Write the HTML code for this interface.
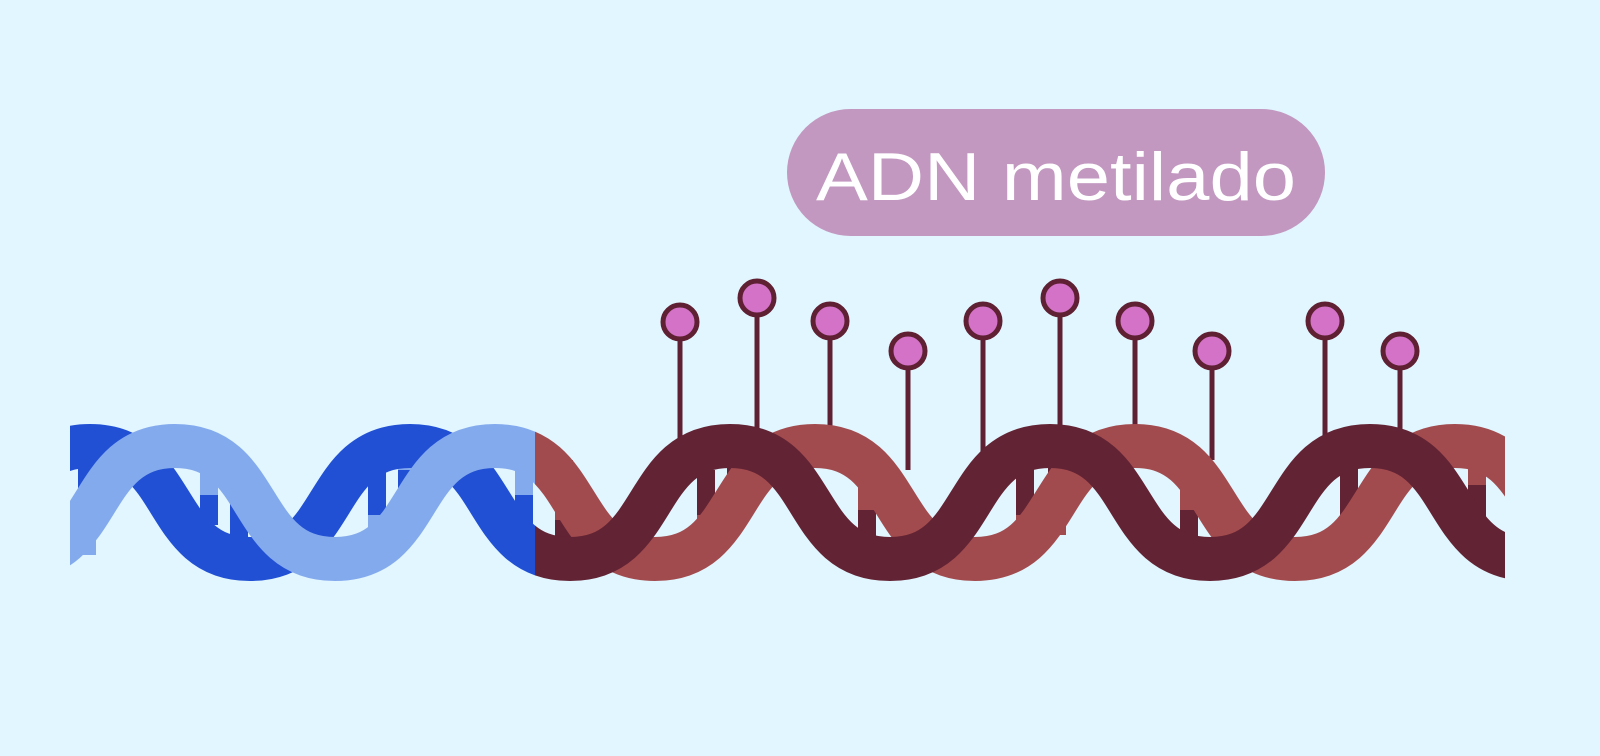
<!DOCTYPE html>
<html><head><meta charset="utf-8"><style>
html,body{margin:0;padding:0;background:#e1f6fe;}
svg{display:block}
</style></head><body>
<svg width="1600" height="756" viewBox="0 0 1600 756" xmlns="http://www.w3.org/2000/svg">
<rect width="1600" height="756" fill="#e1f6fe"/>
<defs>
<clipPath id="cb"><rect x="70" y="380" width="465" height="240"/></clipPath>
<clipPath id="cr"><rect x="535" y="380" width="970" height="240"/></clipPath>
<path id="dark" d="M-230,446 C-140,446 -160,559 -70,559 S0,446 90,446 S160,559 250,559 S320,446 410,446 S480,559 570,559 S640,446 730,446 S800,559 890,559 S960,446 1050,446 S1120,559 1210,559 S1280,446 1370,446 S1440,559 1530,559"/>
<path id="light" d="M-145,446 C-55,446 -75,559 15,559 S85,446 175,446 S245,559 335,559 S405,446 495,446 S565,559 655,559 S725,446 815,446 S885,559 975,559 S1045,446 1135,446 S1205,559 1295,559 S1365,446 1455,446 S1525,559 1615,559"/>
</defs>
<rect x="787" y="109" width="538" height="127" rx="63.5" fill="#c298c0"/>
<text x="816" y="200" font-family="Liberation Sans, sans-serif" font-size="68" fill="#ffffff" textLength="480" lengthAdjust="spacingAndGlyphs">ADN metilado</text>
<g stroke="#5e2032" stroke-width="5" fill="none">
<line x1="680" y1="335" x2="680" y2="440"/><line x1="757" y1="310" x2="757" y2="430"/>
<line x1="830" y1="335" x2="830" y2="430"/><line x1="908" y1="365" x2="908" y2="470"/>
<line x1="983" y1="335" x2="983" y2="465"/><line x1="1060" y1="310" x2="1060" y2="430"/>
<line x1="1135" y1="335" x2="1135" y2="430"/><line x1="1212" y1="365" x2="1212" y2="460"/>
<line x1="1325" y1="335" x2="1325" y2="440"/><line x1="1400" y1="365" x2="1400" y2="440"/>
</g>
<g stroke="#5e2032" stroke-width="5" fill="#d472c8">
<circle cx="680" cy="322" r="17"/><circle cx="757" cy="298" r="17"/><circle cx="830" cy="321" r="17"/>
<circle cx="908" cy="351" r="17"/><circle cx="983" cy="321" r="17"/><circle cx="1060" cy="298" r="17"/>
<circle cx="1135" cy="321" r="17"/><circle cx="1212" cy="351" r="17"/><circle cx="1325" cy="321" r="17"/>
<circle cx="1400" cy="351" r="17"/>
</g>
<g clip-path="url(#cb)">
<g>
<rect x="78" y="440" width="18" height="55" fill="#2150d4"/><rect x="78" y="495" width="18" height="60" fill="#84aaee"/>
<rect x="200" y="460" width="18" height="40" fill="#84aaee"/><rect x="200" y="495" width="18" height="30" fill="#2150d4"/>
<rect x="230" y="480" width="18" height="65" fill="#2150d4"/><rect x="230" y="470" width="18" height="10" fill="#84aaee"/>
<rect x="368" y="470" width="18" height="55" fill="#2150d4"/><rect x="368" y="515" width="18" height="35" fill="#84aaee"/>
<rect x="398" y="460" width="18" height="40" fill="#84aaee"/><rect x="398" y="470" width="18" height="30" fill="#2150d4"/>
<rect x="515" y="460" width="18" height="35" fill="#84aaee"/><rect x="515" y="495" width="18" height="50" fill="#2150d4"/>
</g>
<use href="#dark" stroke="#2150d4" stroke-width="44" fill="none"/>
<use href="#light" stroke="#84aaee" stroke-width="44" fill="none"/>
</g>
<g clip-path="url(#cr)">
<g>
<rect x="555" y="460" width="18" height="60" fill="#a24b4e"/><rect x="555" y="520" width="18" height="35" fill="#622334"/>
<rect x="697" y="470" width="18" height="45" fill="#622334"/><rect x="697" y="515" width="18" height="35" fill="#a24b4e"/>
<rect x="727" y="460" width="18" height="25" fill="#622334"/><rect x="727" y="485" width="18" height="40" fill="#a24b4e"/>
<rect x="858" y="470" width="18" height="40" fill="#a24b4e"/><rect x="858" y="510" width="18" height="40" fill="#622334"/>
<rect x="1016" y="465" width="18" height="50" fill="#622334"/><rect x="1016" y="515" width="18" height="30" fill="#a24b4e"/>
<rect x="1048" y="460" width="18" height="35" fill="#622334"/><rect x="1048" y="495" width="18" height="40" fill="#a24b4e"/>
<rect x="1180" y="470" width="18" height="40" fill="#a24b4e"/><rect x="1180" y="510" width="18" height="40" fill="#622334"/>
<rect x="1340" y="465" width="18" height="50" fill="#622334"/><rect x="1340" y="515" width="18" height="30" fill="#a24b4e"/>
<rect x="1468" y="460" width="18" height="25" fill="#a24b4e"/><rect x="1468" y="485" width="18" height="60" fill="#622334"/>
</g>
<use href="#light" stroke="#a24b4e" stroke-width="44" fill="none"/>
<use href="#dark" stroke="#622334" stroke-width="44" fill="none"/>
</g>
</svg>
</body></html>
